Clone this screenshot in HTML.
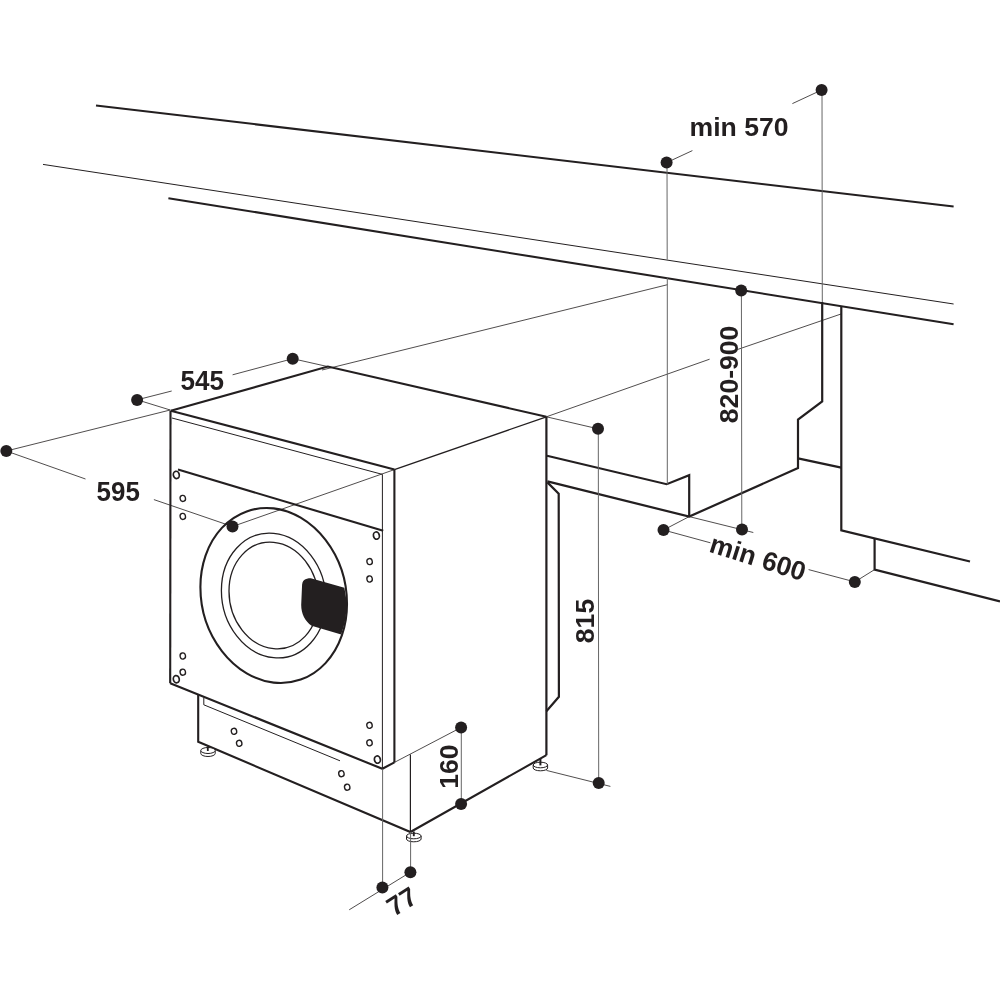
<!DOCTYPE html>
<html><head><meta charset="utf-8">
<style>
html,body{margin:0;padding:0;background:#fff;}
svg{display:block;will-change:transform;}
text{font-family:"Liberation Sans",sans-serif;font-weight:bold;fill:#231f20;}
</style></head>
<body>
<svg width="1000" height="1000" viewBox="0 0 1000 1000">
<rect width="1000" height="1000" fill="#fff"/>
<g fill="none" stroke="#231f20" stroke-linecap="butt" stroke-linejoin="miter">
  <!-- worktop lines -->
  <line x1="96" y1="105.5" x2="953.6" y2="206.6" stroke-width="2"/>
  <line x1="43" y1="164.4" x2="953.6" y2="304" stroke-width="1"/>
  <line x1="168.4" y1="198.2" x2="953.6" y2="324.2" stroke-width="2.1"/>

  <!-- cabinet -->
  <polyline points="547,455.8 666.7,484.2 689.2,475.2 689.2,516.6" stroke-width="2.2"/>
  <polyline points="547.4,481.4 689.2,516.6 798,468 798,419.6 822.2,401.5 822.2,302" stroke-width="2.2"/>
  <line x1="798" y1="458.3" x2="841.3" y2="467.6" stroke-width="2.2"/>
  <polyline points="841.3,306.5 841.3,530.3 970,561.5" stroke-width="2.2"/>
  <polyline points="874.6,538.4 874.6,569.6 1000,601.4" stroke-width="2.2"/>

  <!-- washer -->
  <polyline points="170.8,410.8 327.8,366.6 546.4,416.8" stroke-width="2.1"/>
  <line x1="546.4" y1="416.8" x2="394.4" y2="469.6" stroke-width="1.3"/>
  <line x1="170.8" y1="410.8" x2="394.4" y2="469.6" stroke-width="2.1"/>
  <line x1="170.5" y1="410.8" x2="170.2" y2="683.2" stroke-width="2.1"/>
  <line x1="394.4" y1="469.6" x2="394.4" y2="762.4" stroke-width="2.1"/>
  <line x1="546.4" y1="416.8" x2="546.4" y2="755.2" stroke-width="2.2"/>
  <polyline points="172,418 382.4,474.4" stroke-width="1"/>
  <line x1="382.4" y1="474.4" x2="382.4" y2="768.8" stroke-width="1"/>
  <polyline points="170.2,683.2 382.4,768.8 394.4,762.4" stroke-width="2.1"/>
  <line x1="178" y1="469.6" x2="383.2" y2="530.8" stroke-width="2.1"/>
  <!-- plinth -->
  <polyline points="198.2,694.6 198.2,741.8 410.4,832 546.4,755.2" stroke-width="2.1"/>
  <line x1="410.4" y1="754.4" x2="410.4" y2="832" stroke-width="1.2"/>
  <polyline points="203.8,697.6 203.8,704.8 340,760.8" stroke-width="1"/>
  <!-- hose bracket -->
  <polyline points="547.4,482.4 558.7,493.6 558.9,696.8 546.4,711.2" stroke-width="2.2"/>

  <!-- door -->
  <ellipse cx="0" cy="0" rx="1" ry="1" transform="matrix(73.3,8.5,0,87.1,273.7,595.5)" vector-effect="non-scaling-stroke" stroke-width="2.1"/>
  <ellipse cx="0" cy="0" rx="1" ry="1" transform="matrix(52.3,5,0,62.2,273.7,595.5)" vector-effect="non-scaling-stroke" stroke-width="1.3"/>
  <ellipse cx="0" cy="0" rx="1" ry="1" transform="matrix(44.7,4.3,0,53.2,273.7,595.5)" vector-effect="non-scaling-stroke" stroke-width="1.3"/>

  <!-- screws -->
  <g stroke-width="1.7">
    <ellipse cx="176.3" cy="474.9" rx="2.95" ry="3.65" transform="rotate(-12 176.3 474.9)"/>
    <ellipse cx="376.4" cy="535.6" rx="2.95" ry="3.65" transform="rotate(-12 376.4 535.6)"/>
    <ellipse cx="176.3" cy="679.2" rx="2.95" ry="3.65" transform="rotate(-12 176.3 679.2)"/>
    <ellipse cx="377.4" cy="759.6" rx="2.95" ry="3.65" transform="rotate(-12 377.4 759.6)"/>
  </g>
  <g stroke-width="1.35">
    <ellipse cx="182.8" cy="498.4" rx="2.7" ry="3.05" transform="rotate(-12 182.8 498.4)"/>
    <ellipse cx="182.8" cy="516.4" rx="2.7" ry="3.05" transform="rotate(-12 182.8 516.4)"/>
    <ellipse cx="369.6" cy="561.6" rx="2.7" ry="3.05" transform="rotate(-12 369.6 561.6)"/>
    <ellipse cx="369.6" cy="579" rx="2.7" ry="3.05" transform="rotate(-12 369.6 579)"/>
    <ellipse cx="182.8" cy="656" rx="2.7" ry="3.05" transform="rotate(-12 182.8 656)"/>
    <ellipse cx="182.8" cy="672.2" rx="2.7" ry="3.05" transform="rotate(-12 182.8 672.2)"/>
    <ellipse cx="369.5" cy="725.3" rx="2.7" ry="3.05" transform="rotate(-12 369.5 725.3)"/>
    <ellipse cx="369.5" cy="742.8" rx="2.7" ry="3.05" transform="rotate(-12 369.5 742.8)"/>
    <ellipse cx="234" cy="731.3" rx="2.7" ry="3.05" transform="rotate(-12 234 731.3)"/>
    <ellipse cx="239.2" cy="743.3" rx="2.7" ry="3.05" transform="rotate(-12 239.2 743.3)"/>
    <ellipse cx="341.4" cy="773.7" rx="2.7" ry="3.05" transform="rotate(-12 341.4 773.7)"/>
    <ellipse cx="347.2" cy="787.2" rx="2.7" ry="3.05" transform="rotate(-12 347.2 787.2)"/>
  </g>

  <!-- thin dimension lines -->
  <g stroke-width="0.8">
    <line x1="322" y1="370" x2="667.5" y2="284.7"/>
    <line x1="6.3" y1="451" x2="170.2" y2="410"/>
    <line x1="232.5" y1="526.5" x2="394.4" y2="469.6"/>
    <line x1="546.4" y1="416.8" x2="709.6" y2="359.2"/>
    <line x1="737.2" y1="349.6" x2="841" y2="314"/>
    <line x1="6.3" y1="451" x2="85.5" y2="479"/>
    <line x1="153.9" y1="499.6" x2="232.5" y2="526.5"/>
    <line x1="137.2" y1="399.8" x2="170.2" y2="410"/>
    <line x1="292.7" y1="358.7" x2="327.8" y2="366.6"/>
    <line x1="137.2" y1="399.8" x2="171.7" y2="391"/>
    <line x1="292.7" y1="358.7" x2="232.6" y2="374.8"/>
    <line x1="666.6" y1="162.6" x2="692.4" y2="150.6"/>
    <line x1="821.6" y1="90" x2="792.4" y2="103.6"/>
    <line x1="663.5" y1="530" x2="689.2" y2="516.6"/>
    <line x1="689.2" y1="516.6" x2="753.3" y2="532.5"/>
    <line x1="663.5" y1="530" x2="710.4" y2="542.8"/>
    <line x1="808.6" y1="569.6" x2="854.8" y2="581.9"/>
    <line x1="854.8" y1="581.9" x2="874.6" y2="569.6"/>
    <line x1="546.4" y1="416.8" x2="598" y2="428.8"/>
    <line x1="546.4" y1="770.4" x2="610.4" y2="786.4"/>
    <line x1="394.4" y1="762.4" x2="461.1" y2="727.5"/>
    <line x1="410.4" y1="872.2" x2="349.2" y2="909.8"/>
  </g>
  <g stroke="#666" stroke-width="1">
    <line x1="667" y1="162.6" x2="667.2" y2="259.6"/>
    <line x1="667.3" y1="277.5" x2="667.3" y2="484.5"/>
    <line x1="822" y1="90" x2="822.3" y2="302"/>
    <line x1="741.4" y1="290.4" x2="741.8" y2="529.6"/>
    <line x1="598.3" y1="428.8" x2="598.7" y2="782.9"/>
    <line x1="461.3" y1="727.5" x2="461.3" y2="804"/>
    <line x1="382.6" y1="768.8" x2="382.6" y2="887.6"/>
    
  </g>

  <!-- feet -->
  <g stroke-width="1">
    <path d="M200.8,750.5 v3 a7.2,3 0 0 0 14.4,0 v-3" fill="#fff"/>
    <ellipse cx="208" cy="750.5" rx="7.2" ry="3" fill="#fff"/>
    <line x1="207.8" y1="746.5" x2="207.8" y2="751" stroke-width="1.8"/>
    <path d="M406.5,836 v3 a7.3,2.8 0 0 0 14.6,0 v-3" fill="#fff"/>
    <ellipse cx="413.8" cy="836" rx="7.3" ry="2.8" fill="#fff"/>
    <line x1="413.8" y1="831.5" x2="413.8" y2="836.2" stroke-width="1.9"/>
    <line x1="410.6" y1="832" x2="410.6" y2="872.2" stroke="#666"/>
    <path d="M533.2,765 v3 a7.2,2.8 0 0 0 14.4,0 v-3" fill="#fff"/>
    <ellipse cx="540.4" cy="765" rx="7.2" ry="2.8" fill="#fff"/>
    <line x1="540.4" y1="758.5" x2="540.4" y2="765.4" stroke-width="2"/>
  </g>
</g>

<!-- handle -->
<path d="M302,586.6 C302,580 305,578.2 310.8,578.2 L344.4,587.8 Q350,611 341.2,634.6 L311.6,625.8 C305,621 301.2,614 301.2,605 Z" fill="#231f20"/>

<!-- dots -->
<g fill="#231f20">
  <circle cx="666.6" cy="162.6" r="6"/>
  <circle cx="821.6" cy="90" r="6"/>
  <circle cx="741.2" cy="290.4" r="6"/>
  <circle cx="137.1" cy="400.1" r="6"/>
  <circle cx="292.7" cy="358.7" r="6"/>
  <circle cx="6.3" cy="451" r="6"/>
  <circle cx="232.5" cy="526.5" r="6"/>
  <circle cx="598" cy="428.8" r="6"/>
  <circle cx="663.5" cy="530" r="6"/>
  <circle cx="742" cy="529.6" r="6"/>
  <circle cx="854.8" cy="581.9" r="6"/>
  <circle cx="598.7" cy="782.9" r="6"/>
  <circle cx="461.1" cy="727.5" r="6"/>
  <circle cx="461.1" cy="804" r="6"/>
  <circle cx="382.4" cy="887.6" r="6"/>
  <circle cx="410.4" cy="872.2" r="6"/>
</g>

<!-- texts -->
<text x="689.5" y="136" font-size="26.6">min 570</text>
<text transform="translate(180.5,390.2) scale(0.98,1.035)" font-size="26.6">545</text>
<text transform="translate(96.6,500.8) scale(0.975,1.055)" font-size="26.6">595</text>
<text transform="translate(738.2,423.2) rotate(-90)" font-size="26.6">820-900</text>
<text transform="translate(594.2,643.2) rotate(-90)" font-size="26.6">815</text>
<text transform="translate(458.2,788.8) rotate(-90)" font-size="26.6">160</text>
<text transform="translate(708,551.5) rotate(17.5)" font-size="26.6">min 600</text>
<text transform="translate(394.1,917) rotate(-32)" font-size="26.6">77</text>
</svg>
</body></html>
